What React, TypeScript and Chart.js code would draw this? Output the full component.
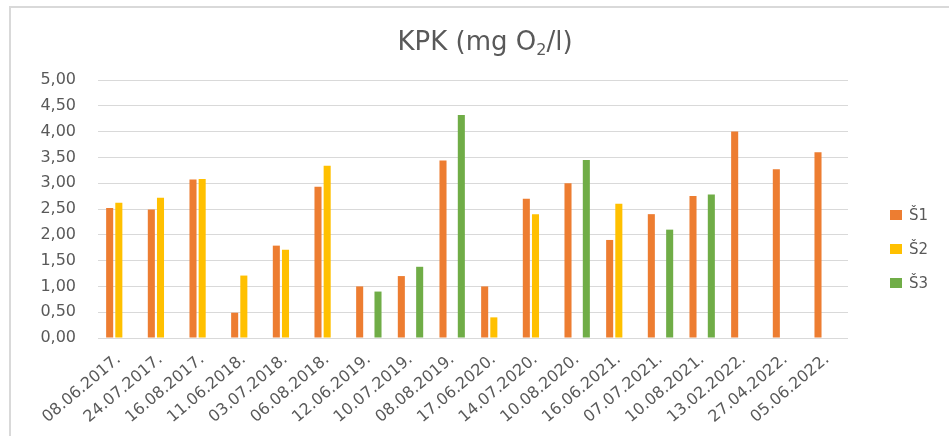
import React, { useEffect, useRef } from "react";
import { Chart, registerables } from "chart.js";

Chart.register(...registerables);

const categories = [
  "08.06.2017.", "24.07.2017.", "16.08.2017.", "11.06.2018.", "03.07.2018.", "06.08.2018.",
  "12.06.2019.", "10.07.2019.", "08.08.2019.", "17.06.2020.", "14.07.2020.", "10.08.2020.",
  "16.06.2021.", "07.07.2021.", "10.08.2021.", "13.02.2022.", "27.04.2022.", "05.06.2022.",
];

const seriesNames = ["Š1", "Š2", "Š3"];

const s1 = [2.52, 2.49, 3.07, 0.49, 1.79, 2.93, 1.0, 1.2, 3.44, 1.0, 2.7, 3.0, 1.9, 2.4, 2.75, 4.0, 3.27, 3.6];
const s2 = [2.62, 2.72, 3.08, 1.21, 1.71, 3.34, null, null, null, 0.4, 2.4, null, 2.6, null, null, null, null, null];
const s3 = [null, null, null, null, null, null, 0.9, 1.38, 4.32, null, null, 3.45, null, 2.1, 2.78, null, null, null];

const seriesColors = ["#ED7D31", "#FFC000", "#70AD47"];

const yMin = 0;
const yMax = 5;
const yStep = 0.5;

const titleMain = "KPK (mg O";
const titleSub = "2";
const titleEnd = "/l)";

const FONT = "'DejaVu Sans', sans-serif";
const TEXT = "#595959";

const titlePlugin = {
  id: "subscriptTitle",
  afterDraw(chart: any) {
    const ctx = chart.ctx;
    ctx.save();
    const big = `26px ${FONT}`;
    const small = `16px ${FONT}`;
    ctx.font = big;
    const w1 = ctx.measureText(titleMain).width;
    const w3 = ctx.measureText(titleEnd).width;
    ctx.font = small;
    const w2 = ctx.measureText(titleSub).width;
    const total = w1 + w2 + w3;
    let x = 485 - total / 2;
    const y = 50;
    ctx.fillStyle = TEXT;
    ctx.textAlign = "left";
    ctx.textBaseline = "alphabetic";
    ctx.font = big;
    ctx.fillText(titleMain, x, y);
    x += w1;
    ctx.font = small;
    ctx.fillText(titleSub, x, y + 5);
    x += w2;
    ctx.font = big;
    ctx.fillText(titleEnd, x, y);
    ctx.restore();
  },
};

const legendPlugin = {
  id: "sideLegend",
  afterDraw(chart: any) {
    const ctx = chart.ctx;
    const area = chart.chartArea;
    ctx.save();
    ctx.font = `15px ${FONT}`;
    ctx.textAlign = "left";
    ctx.textBaseline = "middle";
    chart.data.datasets.forEach((ds: any, i: number) => {
      const cy = area.top + 135 + 34 * i;
      const bx = area.right + 42;
      ctx.fillStyle = ds.backgroundColor;
      ctx.fillRect(bx, cy - 5, 12, 10);
      ctx.fillStyle = TEXT;
      ctx.fillText(ds.label, bx + 19, cy + 1);
    });
    ctx.restore();
  },
};

export default function App() {
  const ref = useRef<HTMLCanvasElement | null>(null);

  useEffect(() => {
    if (!ref.current) return;
    const data = [s1, s2, s3];
    const chart = new Chart(ref.current, {
      type: "bar",
      data: {
        labels: categories,
        datasets: seriesNames.map((name, i) => ({
          label: name,
          data: data[i] as any,
          backgroundColor: seriesColors[i],
          borderWidth: 0,
          categoryPercentage: 0.66,
          barPercentage: 0.77,
        })),
      },
      options: {
        animation: false,
        responsive: true,
        maintainAspectRatio: false,
        layout: { padding: { top: 80, right: 101, left: 0, bottom: 0 } },
        plugins: {
          legend: { display: false },
          title: { display: false },
          tooltip: { enabled: false },
        },
        scales: {
          x: {
            grid: { display: false, drawTicks: false },
            border: { display: false },
            ticks: {
              autoSkip: false,
              minRotation: 40,
              maxRotation: 40,
              padding: 12,
              color: TEXT,
              font: { family: FONT, size: 16 },
            },
            afterFit(scale: any) {
              scale.height = 98;
            },
          },
          y: {
            min: yMin,
            max: yMax,
            grid: { color: "#d9d9d9", lineWidth: 1, drawTicks: false },
            border: { display: false },
            ticks: {
              stepSize: yStep,
              padding: 22,
              color: TEXT,
              font: { family: FONT, size: 16 },
              callback: (v: any) => Number(v).toFixed(2).replace(".", ","),
            },
            afterFit(scale: any) {
              scale.width = 98;
            },
          },
        },
      },
      plugins: [titlePlugin, legendPlugin],
    });
    return () => chart.destroy();
  }, []);

  return (
    <div style={{ position: "fixed", left: 0, top: 0, width: 949, height: 436, background: "#fff", overflow: "hidden" }}>
      <div
        style={{
          position: "absolute",
          left: 9,
          top: 6,
          right: -10,
          bottom: -10,
          borderTop: "2px solid #d9d9d9",
          borderLeft: "2px solid #d9d9d9",
        }}
      />
      <canvas ref={ref} style={{ position: "absolute", left: 0, top: 0, width: 949, height: 436 }} />
    </div>
  );
}
